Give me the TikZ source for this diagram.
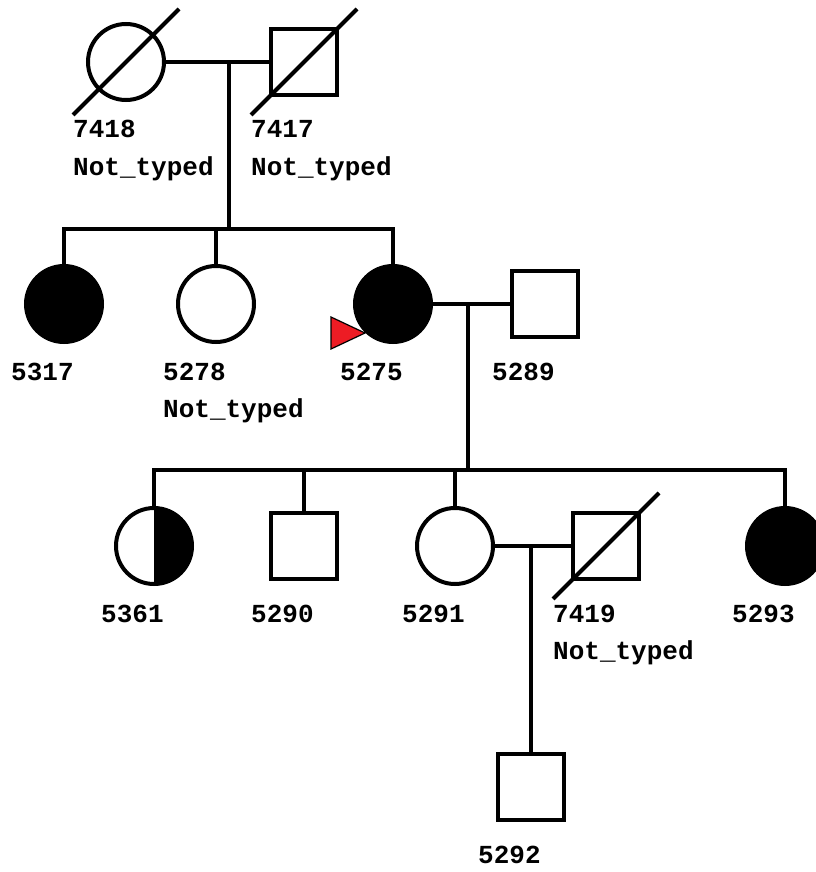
\documentclass[tikz,border=0pt]{standalone}
\usepackage{fontspec}
\setmonofont{Liberation Mono}
\definecolor{probandred}{RGB}{237,28,36}
\begin{document}
\begin{tikzpicture}[x=1pt,y=-1pt,
  ln/.style={line width=4pt,line join=miter},
  fem/.style={circle,draw,line width=4pt,minimum size=76pt,inner sep=0pt},
  mal/.style={rectangle,draw,line width=4pt,minimum size=66pt,inner sep=0pt},
  aff/.style={fill=black},
  halfaff/.style={path picture={\fill[black] (path picture bounding box.north) rectangle (path picture bounding box.south east);}},
  lbl/.style={anchor=base west,inner sep=0pt,font=\ttfamily\bfseries\fontsize{26}{26}\selectfont},
]
\useasboundingbox (0,0) rectangle (815,872);
% generation I
\node[fem] (i7418) at (126,62) {};
\node[mal] (i7417) at (304,62) {};
% generation II
\node[fem,aff] (i5317) at (64,304) {};
\node[fem] (i5278) at (216,304) {};
\node[fem,aff] (i5275) at (393,304) {};
\node[mal] (i5289) at (545,304) {};
% generation III
\node[fem,halfaff] (i5361) at (154,546) {};
\node[mal] (i5290) at (304,546) {};
\node[fem] (i5291) at (455,546) {};
\node[mal] (i7419) at (606,546) {};
\node[fem,aff] (i5293) at (785,546) {};
% generation IV
\node[mal] (i5292) at (531,787) {};
% deceased slashes
\draw[ln] (i7418.center) ++(-53,53) -- ++(106,-106);
\draw[ln] (i7417.center) ++(-53,53) -- ++(106,-106);
\draw[ln] (i7419.center) ++(-53,53) -- ++(106,-106);
% marriages and descents
\coordinate (m1) at (229,62);
\coordinate (s1) at (229,229);
\draw[ln] (i7418) -- (i7417);
\draw[ln] (m1) -- (s1);
\draw[ln] (i5317.north) -- (i5317.north |- s1) -- (i5275.north |- s1) -- (i5275.north);
\draw[ln] (i5278.north |- s1) -- (i5278.north);
\coordinate (m2) at (468,304);
\coordinate (s2) at (468,470);
\draw[ln] (i5275) -- (i5289);
\draw[ln] (m2) -- (s2);
\draw[ln] (i5361.north) -- (i5361.north |- s2) -- (i5293.north |- s2) -- (i5293.north);
\draw[ln] (i5290.north |- s2) -- (i5290.north);
\draw[ln] (i5291.north |- s2) -- (i5291.north);
\coordinate (m3) at (531,546);
\draw[ln] (i5291) -- (i7419);
\draw[ln] (m3) -- (i5292.north);
% proband arrow
\filldraw[fill=probandred,draw=black,line width=1.2pt,line join=miter] (331,317) -- (331,349) -- (365,333) -- cycle;
% labels
\node[lbl] (l7418) at (73,138) {7418};
\node[lbl] (n7418) at (73,175) {Not\_typed};
\node[lbl] (l7417) at (251,138) {7417};
\node[lbl] (n7417) at (251,175) {Not\_typed};
\node[lbl] (l5317) at (11,380) {5317};
\node[lbl] (l5278) at (163,380) {5278};
\node[lbl] (n5278) at (163,417) {Not\_typed};
\node[lbl] (l5275) at (340,380) {5275};
\node[lbl] (l5289) at (492,380) {5289};
\node[lbl] (l5361) at (101,622) {5361};
\node[lbl] (l5290) at (251,622) {5290};
\node[lbl] (l5291) at (402,622) {5291};
\node[lbl] (l7419) at (553,622) {7419};
\node[lbl] (n7419) at (553,659) {Not\_typed};
\node[lbl] (l5293) at (732,622) {5293};
\node[lbl] (l5292) at (478,863) {5292};
\end{tikzpicture}
\end{document}
